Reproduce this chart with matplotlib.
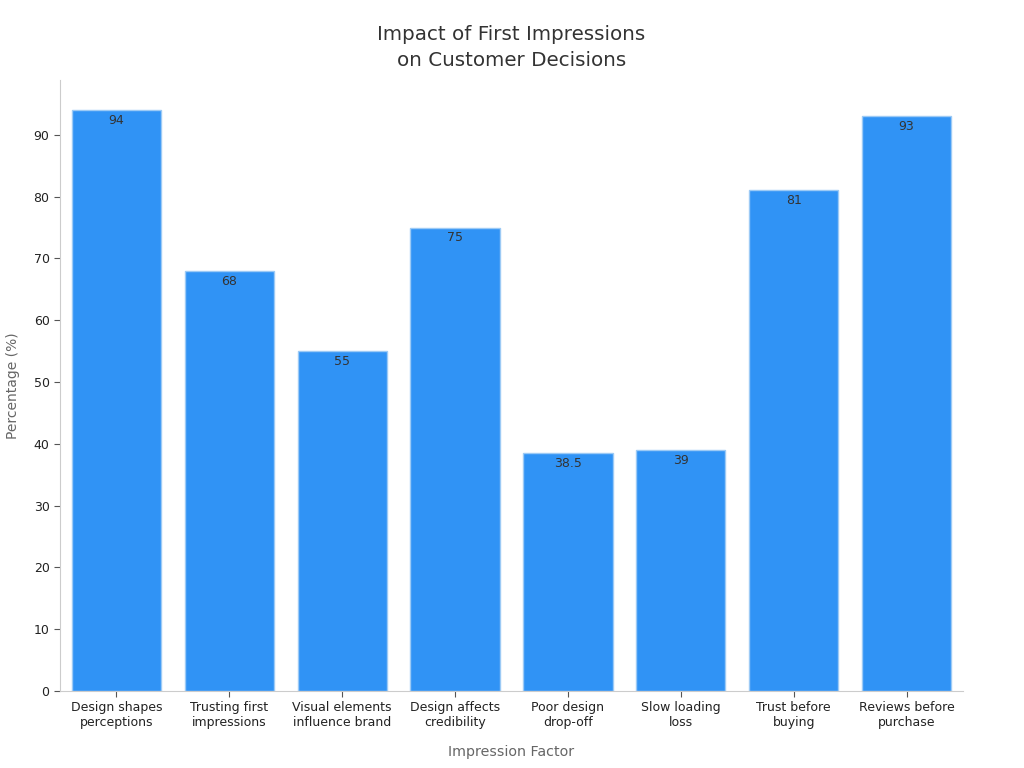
import matplotlib
matplotlib.use("Agg")
import matplotlib.pyplot as plt

# chart data
factors = [
    "Design shapes\nperceptions",
    "Trusting first\nimpressions",
    "Visual elements\ninfluence brand",
    "Design affects\ncredibility",
    "Poor design\ndrop-off",
    "Slow loading\nloss",
    "Trust before\nbuying",
    "Reviews before\npurchase",
]
percentages = [94, 68, 55, 75, 38.5, 39, 81, 93]
value_labels = ["94", "68", "55", "75", "38.5", "39", "81", "93"]

fig = plt.figure(figsize=(10.24, 7.68), dpi=100)
ax = fig.add_axes([0.0586, 0.1003, 0.8818, 0.7957])

bars = ax.bar(range(len(factors)), percentages, width=0.79,
              color="#3093f5", edgecolor="#9ccaf5", linewidth=1)

# value labels just inside the top of each bar
for bar, lab in zip(bars, value_labels):
    ax.text(bar.get_x() + bar.get_width() / 2, bar.get_height() - 0.6, lab,
            ha="center", va="top", fontsize=9, color="#333333")

ax.set_xlim(-0.5, 7.5)
ax.set_ylim(0, 98.9)
ax.set_xticks(range(len(factors)))
ax.set_xticklabels(factors, fontsize=9, color="#222222")
ax.set_yticks(range(0, 100, 10))
ax.tick_params(axis="y", labelsize=9, colors="#222222")
ax.tick_params(axis="both", color="#555555", length=4)

for side in ["top", "right"]:
    ax.spines[side].set_visible(False)
for side in ["left", "bottom"]:
    ax.spines[side].set_color("#cccccc")

ax.set_xlabel("Impression Factor", fontsize=10.3, color="#666666", labelpad=11)
ax.set_ylabel("Percentage (%)", fontsize=10, color="#666666", labelpad=10)
ax.set_title("Impact of First Impressions\non Customer Decisions",
             fontsize=14.3, color="#333333", pad=10, linespacing=1.45)

fig.savefig("out.png", dpi=100)
